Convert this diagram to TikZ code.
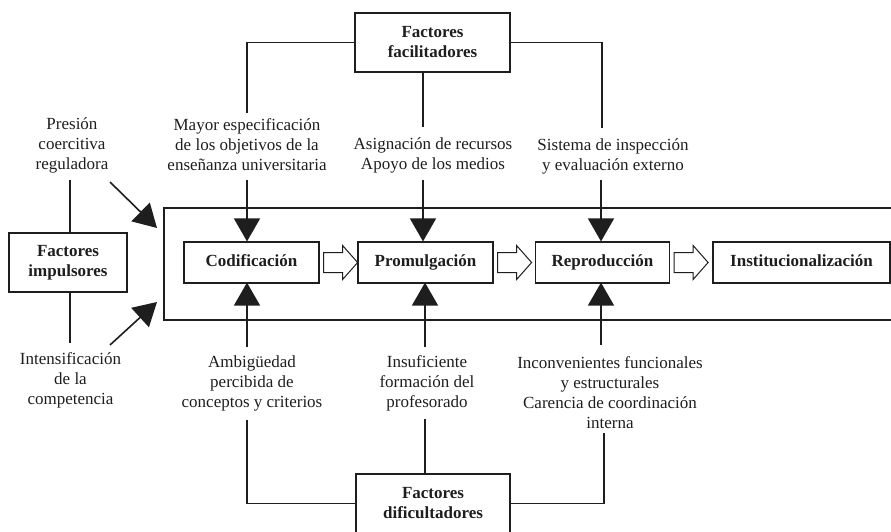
\documentclass[tikz,border=0pt]{standalone}
\usepackage{fontspec}
\setmainfont{Liberation Serif}
\usetikzlibrary{arrows.meta,calc}
\definecolor{ink}{HTML}{1E1E1E}
\begin{document}
\begin{tikzpicture}[x=1pt,y=-1pt,
  every node/.style={text=ink},
  txt/.style={align=center,inner sep=0pt,font=\fontsize{17}{20}\selectfont},
  fbox/.style={draw=ink,line width=1.2pt,align=center,inner sep=0pt,font=\fontsize{17}{20}\selectfont\bfseries},
  pbox/.style={fbox,minimum height=41pt,text height=12pt,text depth=4pt},
  ln/.style={draw=ink,line width=1.6pt},
  arr/.style={draw=ink,line width=1.6pt,-{Triangle[length=23pt,width=26pt]}},
  hollow/.style={draw=ink,line width=1pt,fill=white}
]
\useasboundingbox (0,0) rectangle (891,531);

% big frame (open at right, cropped)
\draw[draw=ink,line width=1.3pt] (895,208) -- (164,208) -- (164,320) -- (895,320);

% factor boxes
\node[fbox,minimum width=155pt,minimum height=59pt] (fac) at (432.5,42.5) {Factores\\facilitadores};
\node[fbox,minimum width=118pt,minimum height=59pt] (imp) at (68,262.5) {Factores\\impulsores};
\node[fbox,minimum width=154pt,minimum height=59pt] (dif) at (433,503.5) {Factores\\dificultadores};

% process boxes
\node[pbox,minimum width=135pt] (cod) at (251.5,262.5) {Codificación};
\node[pbox,minimum width=135pt] (pro) at (425.5,262.5) {Promulgación};
\node[pbox,minimum width=134pt] (rep) at (602.5,262.5) {Reproducción};
\node[pbox,minimum width=177pt] (ins) at (801.5,262.5) {Institucionalización};

% texts
\node[txt] (tPre) at (72,145) {Presión\\coercitiva\\reguladora};
\node[txt] (tMay) at (247,145) {Mayor especificación\\de los objetivos de la\\enseñanza universitaria};
\node[txt] (tAsi) at (433,155) {Asignación de recursos\\Apoyo de los medios};
\node[txt] (tSis) at (613,156) {Sistema de inspección\\y evaluación externo};
\node[txt] (tInt) at (70.5,380) {Intensificación\\de la\\competencia};
\node[txt] (tAmb) at (252,383) {Ambigüedad\\percibida de\\conceptos y criterios};
\node[txt] (tIns) at (427,383) {Insuficiente\\formación del\\profesorado};
\node[txt] (tInc) at (610,393) {Inconvenientes funcionales\\y estructurales\\Carencia de coordinación\\interna};

% named coordinates for connector ends
\coordinate (fL) at (247,113);
\coordinate (fM) at (423,127);
\coordinate (fR) at (602,128);
\coordinate (aL) at (247,180);
\coordinate (aM) at (423,180);
\coordinate (aR) at (601,180);
\coordinate (bL) at (247,347);
\coordinate (bM) at (425,347);
\coordinate (bR) at (601,345);
\coordinate (dL) at (247,420);
\coordinate (dM) at (425,419);
\coordinate (dR) at (604,433);
\coordinate (pT) at (70,180);
\coordinate (pB) at (70,343);
\coordinate (gT) at (110,182);
\coordinate (gTe) at (157,228);
\coordinate (gB) at (110,345);
\coordinate (gBe) at (157,302);

% facilitadores connectors
\draw[ln] (fac.west) -| (fL);
\draw[ln] (fac.south -| fM) -- (fM);
\draw[ln] (fac.east) -| (fR);
\draw[arr] (aL) -- (aL |- cod.north);
\draw[arr] (aM) -- (aM |- pro.north);
\draw[arr] (aR) -- (aR |- rep.north);

% dificultadores connectors
\draw[arr] (bL) -- ([yshift=1pt]bL |- cod.south);
\draw[arr] (bM) -- ([yshift=1pt]bM |- pro.south);
\draw[arr] (bR) -- ([yshift=1pt]bR |- rep.south);
\draw[ln] (dL) |- (dif.west);
\draw[ln] (dM) -- (dM |- dif.north);
\draw[ln] (dR) |- (dif.east);

% impulsores connectors
\draw[ln] (pT) -- (pT |- imp.north);
\draw[ln] (pT |- imp.south) -- (pB);
\draw[arr] (gT) -- (gTe);
\draw[arr] (gB) -- (gBe);

% hollow block arrows
\foreach \s in {cod,pro,rep}{
  \draw[hollow] ($(\s.east)+(4,0)$) ++(0,-10) -- ++(19,0) -- ++(0,-7) -- ++(15,17) -- ++(-15,17) -- ++(0,-7) -- ++(-19,0) -- cycle;
}
\end{tikzpicture}
\end{document}
